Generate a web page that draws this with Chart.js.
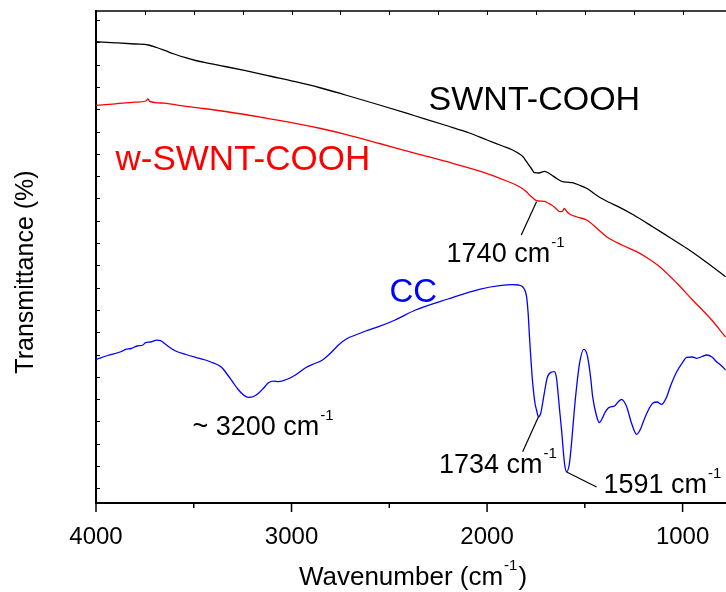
<!DOCTYPE html>
<html><head><meta charset="utf-8">
<script src="https://cdn.jsdelivr.net/npm/chart.js@4.4.0/dist/chart.umd.min.js"></script>
<style>html,body{margin:0;padding:0;background:#fff;}canvas{display:block;}</style>
</head><body>
<canvas id="c" width="726" height="592"></canvas>
<script>
// ---- axis settings ----
const xTickValues = [4000, 3000, 2000, 1000];
const xMinorTicks = [3500, 2500, 1500];
const xMin = 778, xMax = 4000;
const yMin = 0, yMax = 492;

// ---- SWNT-COOH (black) ----
const swntWn = [4000,3900,3800,3731,3690,3645,3600,3542,3490,3440,3340,3235,3100,2980,2850,2724,2550,2366,2200,2090,2000,1921,1870,1834,1815,1798,1775,1757,1735,1706,1690,1670,1640,1614,1590,1563,1530,1491,1460,1425,1380,1322,1250,1153,1070,979,880,780];
const swntT  = [461.3,460.2,459,458,455.5,452.3,449,445.3,442.5,440.3,436.5,432.3,426.5,421.3,415,408,398,387,377,370,363,357,353,349,346,341.3,335,330.3,330,331.7,330.5,328,324,321.3,320.8,320.3,318,314.7,310.5,305.7,301,295.7,288,276.3,266,254.7,241,226.3];

// ---- w-SWNT-COOH (red) ----
const wswntWn = [4000,3900,3800,3745,3735,3725,3650,3578,3450,3322,3150,2980,2850,2724,2550,2366,2176,2003,1900,1834,1800,1783,1765,1747,1725,1706,1690,1670,1645,1629,1615,1605,1598,1590,1578,1540,1491,1440,1389,1310,1235,1180,1117,1030,949,860,780];
const wswntT  = [397.7,399.2,400.8,402,404,401.7,399.8,397.7,394.5,391,385.5,379.7,374.5,368.7,359.5,349.7,339.7,329.7,322,316.3,311.5,308,305,302.3,301.8,301.7,300,298,294,291.3,291.5,294.5,293,291,289,286,283,275,266.3,258,251.3,245,236.3,220,203,185,166];

// ---- CC (blue) ----
const ccWn = [4000,3940,3870,3849,3820,3790,3760,3747,3720,3690,3670,3640,3593,3540,3491,3440,3404,3375,3353,3330,3302,3275,3251,3220,3195,3169,3140,3118,3090,3067,3020,2980,2928,2880,2842,2800,2760,2720,2673,2620,2555,2470,2366,2200,2039,1936,1870,1840,1818,1805,1798,1790,1783,1768,1755,1747,1737,1725,1716,1700,1691,1670,1655,1645,1640,1630,1619,1604,1593,1580,1568,1555,1542,1527,1506,1495,1486,1470,1460,1440,1425,1410,1399,1380,1363,1348,1330,1312,1300,1286,1261,1235,1215,1204,1180,1153,1130,1107,1095,1081,1060,1030,1000,979,950,928,900,877,850,826,800,780];
const ccT  = [143.7,147.5,151.5,153.7,154.5,157,158,160.3,161,162.8,162.3,158,152,148.5,145.7,143,140.3,138,134.7,129,121.3,114,109,105.7,106.5,109.7,115.5,120.3,121.8,121.3,124,128,135.3,139.5,143,150,158,164,168,172,176.3,183,193,204,213.7,217.3,218.3,218,216.3,212,206.3,190,166.3,123,100,93,86.3,90,99.7,118,126.3,131,131.3,125,116.3,95,73,39.7,31.3,38,59.7,90,116.3,139.7,153.7,152,146.3,125,106.3,87,80.3,85,89.7,95,96.3,97,101,103.7,101.5,96.3,79.7,68.7,74,79.7,91,99.7,101,98.7,101,106.3,118,131.3,140.5,145.7,146,144.7,146.5,148,146,141.3,137,133];

// ---- annotations: [text, superscript, wavenumber, transmittance(baseline), size, color] ----
const labelTexts = [
  ['SWNT-COOH', '', 2299, 393, 34, '#000000'],
  ['w-SWNT-COOH', '', 3900, 333, 35, '#ff0000'],
  ['CC', '', 2499, 201, 33, '#0000ff'],
  ['~ 3200 cm', '-1', 3507, 68, 27, '#000000'],
  ['1740 cm', '-1', 2207, 241, 27, '#000000'],
  ['1734 cm', '-1', 2246, 30, 27, '#000000'],
  ['1591 cm', '-1', 1405, 10, 27, '#000000']
];
// leader lines: [wn1, T1, wn2, T2]
const leaderLines = [
  [1747, 301.3, 1825, 268],
  [1737, 86.3, 1818, 51.3],
  [1593, 31, 1440, 16]
];

const FONT = '"Liberation Sans", Arial, sans-serif';

function pts(w, t) { return w.map((v, i) => ({x: v, y: t[i]})); }

const decor = {
  id: 'decor',
  afterDraw(chart) {
    const {ctx, chartArea: a, scales: {x, y}} = chart;
    ctx.save();
    ctx.strokeStyle = '#000';
    // top border
    ctx.lineWidth = 1.5;
    ctx.beginPath(); ctx.moveTo(a.left, a.top); ctx.lineTo(a.right, a.top); ctx.stroke();
    // top inward ticks every 250
    ctx.lineWidth = 1;
    for (let v = xMax; v >= xMin; v -= 250) {
      const px = Math.round(x.getPixelForValue(v)) + 0.5;
      ctx.beginPath(); ctx.moveTo(px, a.top); ctx.lineTo(px, a.top + 4); ctx.stroke();
    }
    // bottom outward ticks
    ctx.lineWidth = 1.5;
    xTickValues.forEach(v => {
      const px = x.getPixelForValue(v);
      ctx.beginPath(); ctx.moveTo(px, a.bottom); ctx.lineTo(px, a.bottom + 9); ctx.stroke();
    });
    xMinorTicks.forEach(v => {
      const px = x.getPixelForValue(v);
      ctx.beginPath(); ctx.moveTo(px, a.bottom); ctx.lineTo(px, a.bottom + 5); ctx.stroke();
    });
    // left inward ticks
    ctx.lineWidth = 1;
    for (let v = 483; v > yMin + 5; v -= 22.3) {
      const py = Math.round(y.getPixelForValue(v)) + 0.5;
      ctx.beginPath(); ctx.moveTo(a.left, py); ctx.lineTo(a.left + 4, py); ctx.stroke();
    }
    // leader lines
    ctx.lineWidth = 1.2;
    leaderLines.forEach(l => {
      ctx.beginPath();
      ctx.moveTo(x.getPixelForValue(l[0]), y.getPixelForValue(l[1]));
      ctx.lineTo(x.getPixelForValue(l[2]), y.getPixelForValue(l[3]));
      ctx.stroke();
    });
    // annotation texts
    ctx.textBaseline = 'alphabetic';
    ctx.textAlign = 'left';
    labelTexts.forEach(([t, sup, wn, tv, size, col]) => {
      const px = x.getPixelForValue(wn), py = y.getPixelForValue(tv);
      ctx.fillStyle = col;
      ctx.font = size + 'px ' + FONT;
      ctx.fillText(t, px, py);
      if (sup) {
        const w = ctx.measureText(t).width;
        ctx.font = Math.round(size * 0.56) + 'px ' + FONT;
        ctx.fillText(sup, px + w + 1, py - size * 0.57);
      }
    });
    // x axis title
    ctx.fillStyle = '#000';
    ctx.font = '26px ' + FONT;
    const t1 = 'Wavenumber (cm', s1 = '-1', t2 = ')';
    const w1 = ctx.measureText(t1).width, w3 = ctx.measureText(t2).width;
    ctx.font = '15px ' + FONT;
    const w2 = ctx.measureText(s1).width + 2;
    const cx = (a.left + a.right) / 2 + 2;
    let sx = cx - (w1 + w2 + w3) / 2;
    const by = 585;
    ctx.font = '26px ' + FONT; ctx.fillText(t1, sx, by);
    ctx.font = '15px ' + FONT; ctx.fillText(s1, sx + w1 + 1, by - 15);
    ctx.font = '26px ' + FONT; ctx.fillText(t2, sx + w1 + w2, by);
    // y axis title
    ctx.save();
    ctx.translate(33, (a.top + a.bottom) / 2 + 15);
    ctx.rotate(-Math.PI / 2);
    ctx.textAlign = 'center';
    ctx.font = '25px ' + FONT;
    ctx.fillText('Transmittance (%)', 0, 0);
    ctx.restore();
    ctx.restore();
  }
};

const ds = (label, w, t, color) => ({
  label, data: pts(w, t), borderColor: color, borderWidth: 1.3,
  pointRadius: 0, showLine: true, fill: false, cubicInterpolationMode: 'monotone'
});

new Chart(document.getElementById('c'), {
  type: 'scatter',
  data: {
    datasets: [
      ds('SWNT-COOH', swntWn, swntT, '#000000'),
      ds('w-SWNT-COOH', wswntWn, wswntT, '#ff0000'),
      ds('CC', ccWn, ccT, '#0000ff')
    ]
  },
  options: {
    responsive: false,
    animation: false,
    devicePixelRatio: 1,
    layout: {padding: {left: 0, right: 0, top: 11, bottom: 0}},
    plugins: {legend: {display: false}, tooltip: {enabled: false}},
    scales: {
      x: {
        type: 'linear', reverse: true, min: xMin, max: xMax,
        grid: {display: false},
        border: {display: true, color: '#000', width: 2},
        afterBuildTicks: s => { s.ticks = xTickValues.map(v => ({value: v})); },
        afterFit: s => { s.height = 89; },
        ticks: {
          color: '#000', padding: 12, maxRotation: 0, autoSkip: false,
          font: {size: 24, family: FONT},
          callback: v => String(v)
        }
      },
      y: {
        type: 'linear', min: yMin, max: yMax,
        grid: {display: false},
        border: {display: true, color: '#000', width: 2},
        ticks: {display: false},
        afterFit: s => { s.width = 96; }
      }
    }
  },
  plugins: [decor]
});
</script>
</body></html>
